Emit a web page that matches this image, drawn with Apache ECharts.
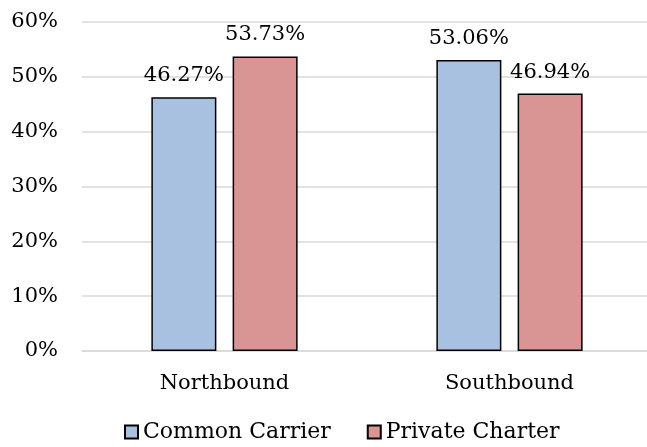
<!DOCTYPE html>
<html><head><meta charset="utf-8">
<script src="https://cdn.jsdelivr.net/npm/echarts@6/dist/echarts.min.js"></script>
<style>html,body{margin:0;padding:0;background:#fff}#c{width:647px;height:447px}</style>
</head><body><div id="c"></div>
<script>
const categories = ['Northbound', 'Southbound'];
const seriesNames = ['Common Carrier', 'Private Charter'];
const commonCarrier = [46.27, 53.06];
const privateCharter = [53.73, 46.94];
const yTicks = [0, 10, 20, 30, 40, 50, 60];

const FONT = 'DejaVu Serif';
const FS = 21;
const chart = echarts.init(document.getElementById('c'), null, {renderer: 'canvas'});
const lbl = {show: true, position: 'top', distance: 11, color: '#000', fontFamily: FONT, fontSize: FS,
  formatter: p => p.value.toFixed(2) + '%'};
chart.setOption({
  animation: false,
  textStyle: {fontFamily: FONT},
  grid: {left: 82, top: 22, width: 570, height: 329, containLabel: false, outerBoundsMode: 'none'},
  legend: {
    top: 416, left: 119, itemWidth: 13, itemHeight: 13, itemGap: 36,
    icon: 'rect',
    textStyle: {fontFamily: FONT, fontSize: 22, color: '#000'},
    data: seriesNames
  },
  xAxis: {
    type: 'category', data: categories,
    axisLine: {lineStyle: {color: '#d9d9d9', width: 1.5}},
    axisTick: {show: false},
    axisLabel: {color: '#000', fontFamily: FONT, fontSize: FS, margin: 22}
  },
  yAxis: {
    type: 'value', min: yTicks[0], max: yTicks[yTicks.length - 1], interval: 10,
    axisLine: {show: false}, axisTick: {show: false},
    splitLine: {lineStyle: {color: '#d9d9d9', width: 1.5}},
    axisLabel: {color: '#000', fontFamily: FONT, fontSize: FS, margin: 24, formatter: '{value}%'}
  },
  series: [
    {name: seriesNames[0], type: 'bar', data: commonCarrier, barWidth: 65, barGap: '25%',
     itemStyle: {color: '#a8c1e1', borderColor: '#000', borderWidth: 1.5}, label: lbl},
    {name: seriesNames[1], type: 'bar', data: privateCharter, barWidth: 65,
     itemStyle: {color: '#d99594', borderColor: '#000', borderWidth: 1.5}, label: lbl}
  ]
});
</script></body></html>
